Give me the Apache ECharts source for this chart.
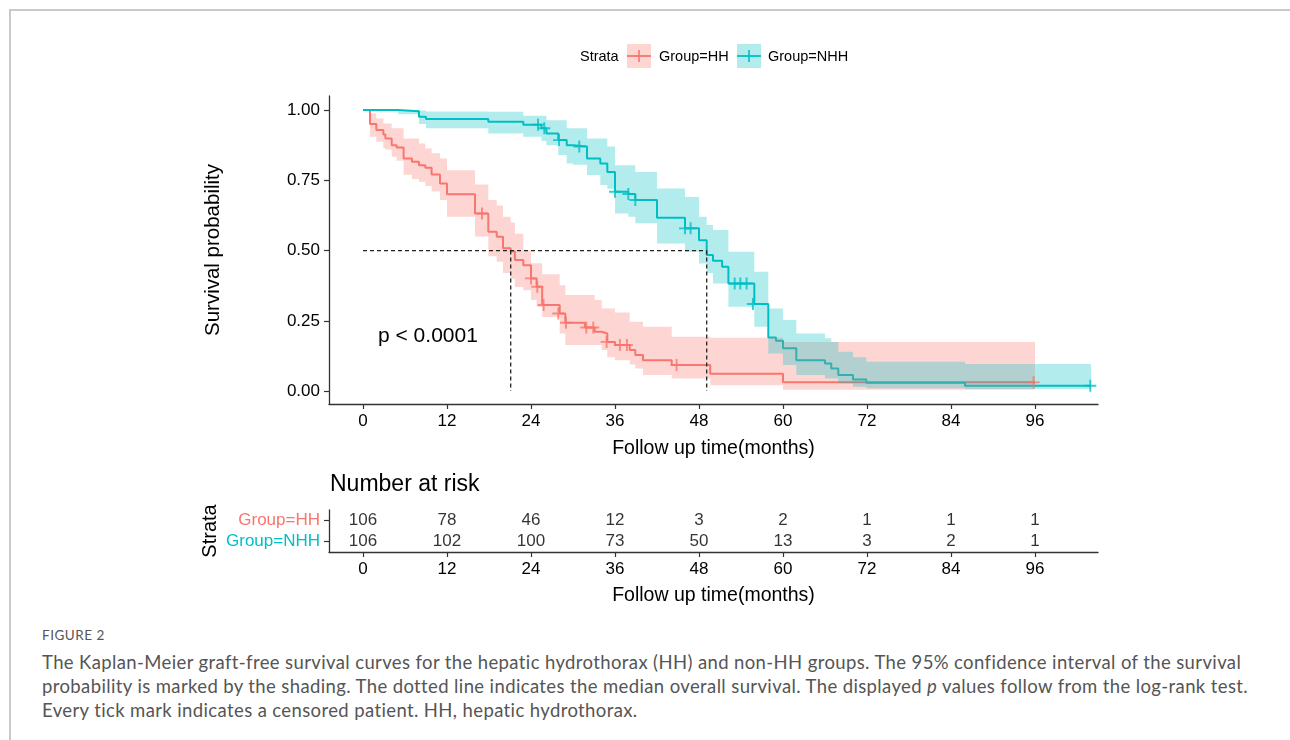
<!DOCTYPE html>
<html>
<head>
<meta charset="utf-8">
<script src="https://cdn.jsdelivr.net/npm/echarts@6/dist/echarts.min.js"></script>
<style>
  html, body { margin: 0; padding: 0; background: #fff; }
  #page { position: relative; width: 1290px; height: 740px; overflow: hidden; }
  #frame { position: absolute; left: 9px; top: 9px; right: -10px; bottom: -10px;
           border-top: 2px solid #c9c9c9; border-left: 2px solid #c9c9c9; }
  #chart { position: absolute; left: 0; top: 0; width: 1290px; height: 620px; }
  .fig { position: absolute; left: 42px; top: 627px; font: 13.5px Lato, sans-serif; color: #555; letter-spacing: 0.5px; }
  .cap { position: absolute; left: 42px; top: 650px; font: 18.5px/24px Lato, sans-serif; color: #555; letter-spacing: 0.38px; white-space: nowrap; }
</style>
</head>
<body>
<div id="page">
  <div id="frame"></div>
  <div id="chart"></div>
  <div class="fig">FIGURE 2</div>
  <div class="cap">The Kaplan-Meier graft-free survival curves for the hepatic hydrothorax (HH) and non-HH groups. The 95% confidence interval of the survival<br>probability is marked by the shading. The dotted line indicates the median overall survival. The displayed <i>p</i> values follow from the log-rank test.<br>Every tick mark indicates a censored patient. HH, hepatic hydrothorax.</div>
</div>
<script>
// ---- data ----
const xTicks = [0, 12, 24, 36, 48, 60, 72, 84, 96];
const yTicks = [0, 0.25, 0.5, 0.75, 1];
const strataNames = ['Group=NHH', 'Group=HH'];   // bottom row first

// HH group: step times, survival after each step, 95% CI
const hhTime  = [0, 1.0, 1.9, 2.9, 3.2, 4.1, 4.8, 5.8, 7.0, 8.0, 8.9, 9.8, 11.0, 12.0, 16.0, 17.9, 19.1, 20.0, 21.1, 21.7, 22.9, 24.0, 24.8, 25.6, 28.1, 28.9, 31.7, 33.1, 34.1, 34.9, 36.0, 38.1, 38.9, 40.0, 44.1, 49.6, 60.0, 96.0];
const hhSurv  = [1, 0.950, 0.929, 0.913, 0.899, 0.875, 0.867, 0.828, 0.816, 0.804, 0.795, 0.771, 0.739, 0.700, 0.632, 0.567, 0.549, 0.508, 0.497, 0.466, 0.448, 0.401, 0.371, 0.306, 0.276, 0.243, 0.226, 0.211, 0.205, 0.175, 0.164, 0.146, 0.128, 0.110, 0.093, 0.062, 0.031, 0.031];
const hhUpper = [1, 0.988, 0.970, 0.952, 0.952, 0.935, 0.935, 0.899, 0.899, 0.881, 0.863, 0.846, 0.828, 0.786, 0.735, 0.680, 0.660, 0.620, 0.600, 0.560, 0.500, 0.455, 0.455, 0.416, 0.377, 0.342, 0.342, 0.324, 0.294, 0.294, 0.280, 0.247, 0.247, 0.229, 0.193, 0.190, 0.175, 0.175];
const hhLower = [1, 0.905, 0.887, 0.865, 0.860, 0.834, 0.820, 0.770, 0.755, 0.745, 0.730, 0.710, 0.680, 0.620, 0.550, 0.480, 0.460, 0.420, 0.400, 0.370, 0.359, 0.324, 0.300, 0.264, 0.205, 0.164, 0.164, 0.164, 0.146, 0.120, 0.110, 0.095, 0.080, 0.057, 0.045, 0.021, 0.005, 0.005];
const hhCensT = [17.0, 24.0, 24.9, 25.8, 27.9, 29.0, 31.9, 32.9, 34.8, 36.7, 37.7, 44.8, 95.8];
const hhCensS = [0.632, 0.401, 0.371, 0.306, 0.276, 0.243, 0.226, 0.226, 0.175, 0.164, 0.164, 0.093, 0.031];

// NHH group
const nhhTime  = [0, 5.0, 8.0, 9.0, 17.9, 22.9, 25.5, 26.2, 27.9, 29.1, 30.0, 32.0, 33.9, 34.9, 36.0, 37.9, 38.9, 42.0, 46.0, 48.0, 49.1, 50.0, 51.3, 52.2, 55.9, 57.9, 59.0, 60.0, 61.9, 66.0, 66.9, 67.9, 70.0, 71.9, 86.0, 104.0];
const nhhSurv  = [1, 0.996, 0.976, 0.968, 0.958, 0.948, 0.935, 0.917, 0.893, 0.875, 0.870, 0.828, 0.810, 0.780, 0.709, 0.701, 0.680, 0.617, 0.579, 0.537, 0.484, 0.464, 0.442, 0.383, 0.310, 0.191, 0.179, 0.152, 0.110, 0.098, 0.080, 0.057, 0.041, 0.030, 0.019, 0.019];
const nhhUpper = [1, 1.000, 0.998, 0.995, 0.994, 0.980, 0.980, 0.964, 0.964, 0.935, 0.935, 0.899, 0.899, 0.870, 0.804, 0.804, 0.780, 0.721, 0.691, 0.620, 0.591, 0.573, 0.573, 0.496, 0.425, 0.294, 0.294, 0.253, 0.205, 0.188, 0.175, 0.140, 0.120, 0.104, 0.096, 0.096];
const nhhLower = [1, 0.985, 0.950, 0.935, 0.917, 0.905, 0.890, 0.875, 0.840, 0.810, 0.805, 0.769, 0.733, 0.720, 0.632, 0.620, 0.597, 0.525, 0.496, 0.454, 0.420, 0.383, 0.383, 0.300, 0.229, 0.134, 0.134, 0.093, 0.057, 0.045, 0.045, 0.027, 0.015, 0.010, 0.007, 0.007];
const nhhCensT = [25.0, 25.9, 28.0, 30.9, 36.0, 37.9, 38.9, 46.0, 46.8, 53.1, 53.9, 54.8, 55.7, 103.9];
const nhhCensS = [0.948, 0.935, 0.893, 0.870, 0.709, 0.701, 0.680, 0.579, 0.579, 0.383, 0.383, 0.383, 0.310, 0.019];

// medians and number at risk
const medianHH = 21.1;
const medianNHH = 49.1;
const riskTimes = [0, 12, 24, 36, 48, 60, 72, 84, 96];
const riskHH  = [106, 78, 46, 12, 3, 2, 1, 1, 1];
const riskNHH = [106, 102, 100, 73, 50, 13, 3, 2, 1];

// ---- chart ----
const RED = '#F8766D';
const TEAL = '#00BFC4';
const FONT = '"Liberation Sans", Arial, sans-serif';
const AXIS = '#333';
const plus = 'path://M0,4.2h10v1.6h-10z M4.2,0h1.6v10h-1.6z';

const zip = (a, b) => a.map((v, i) => [v, b[i]]);

function bandRenderer(times, up, lo, fill) {
  return function (params, api) {
    const pts = [];
    for (let i = 0; i < times.length - 1; i++) {
      pts.push(api.coord([times[i], up[i]]), api.coord([times[i + 1], up[i]]));
    }
    for (let i = times.length - 2; i >= 0; i--) {
      pts.push(api.coord([times[i + 1], lo[i]]), api.coord([times[i], lo[i]]));
    }
    return { type: 'polygon', shape: { points: pts }, style: { fill: fill } };
  };
}

const xAxisBase = (grid, name, gap) => ({
  type: 'value', gridIndex: grid, min: -4.857, max: 105,
  axisLine: { show: true, onZero: false, lineStyle: { color: AXIS, width: 1.3 } },
  axisTick: { show: true, length: 5, customValues: xTicks, lineStyle: { color: AXIS, width: 1.2 } },
  axisLabel: { customValues: xTicks, fontSize: 17, color: '#000', fontFamily: FONT, margin: 9 },
  splitLine: { show: false },
  name: name, nameLocation: 'middle', nameGap: gap, nameMoveOverlap: false,
  nameTextStyle: { fontSize: 19.5, color: '#000', fontFamily: FONT }
});

const dashed = { color: '#222', width: 1.3, type: [4, 3] };

const chart = echarts.init(document.getElementById('chart'));
const option = {
  animation: false,
  backgroundColor: 'transparent',
  grid: [
    { left: 329, top: 96, width: 769, height: 308, outerBoundsMode: 'none' },
    { left: 329, top: 510, width: 769, height: 42, outerBoundsMode: 'none' }
  ],
  xAxis: [
    xAxisBase(0, 'Follow up time(months)', 35),
    xAxisBase(1, 'Follow up time(months)', 34)
  ],
  yAxis: [
    {
      type: 'value', gridIndex: 0, min: -0.046, max: 1.05,
      axisLine: { show: true, onZero: false, lineStyle: { color: AXIS, width: 1.3 } },
      axisTick: { show: true, length: 5, customValues: yTicks, lineStyle: { color: AXIS, width: 1.2 } },
      axisLabel: { customValues: yTicks, fontSize: 17, color: '#000', fontFamily: FONT, margin: 9,
                   formatter: v => v.toFixed(2) },
      splitLine: { show: false },
      name: 'Survival probability', nameLocation: 'middle', nameGap: 105, nameMoveOverlap: false,
      nameTextStyle: { fontSize: 20.5, color: '#000', fontFamily: FONT }
    },
    {
      type: 'category', gridIndex: 1, data: strataNames,
      axisLine: { show: true, onZero: false, lineStyle: { color: AXIS, width: 1.3 } },
      axisTick: { show: true, length: 5, interval: 0, alignWithLabel: true, lineStyle: { color: AXIS, width: 1.2 } },
      axisLabel: { interval: 0, hideOverlap: false, fontSize: 17, fontFamily: FONT, margin: 9,
                   color: v => (v === 'Group=HH' ? RED : TEAL) },
      name: 'Strata', nameLocation: 'middle', nameGap: 109, nameMoveOverlap: false,
      nameTextStyle: { fontSize: 20, color: '#000', fontFamily: FONT }
    }
  ],
  graphic: [
    { type: 'text', left: 330, top: 473, style: { text: 'Number at risk', fontSize: 23, fill: '#000', fontFamily: FONT } },
    { type: 'text', left: 378, top: 326, style: { text: 'p < 0.0001', fontSize: 21, fill: '#000', fontFamily: FONT } },
    // legend
    { type: 'text', left: 580, top: 49, style: { text: 'Strata', fontSize: 14.5, fill: '#000', fontFamily: FONT } },
    { type: 'rect', shape: { x: 627, y: 44, width: 24, height: 24 }, style: { fill: 'rgba(248,118,109,0.3)' } },
    { type: 'line', shape: { x1: 627, y1: 56, x2: 651, y2: 56 }, style: { stroke: RED, lineWidth: 1.8 } },
    { type: 'line', shape: { x1: 639, y1: 50, x2: 639, y2: 62 }, style: { stroke: RED, lineWidth: 1.6 } },
    { type: 'text', left: 659, top: 49, style: { text: 'Group=HH', fontSize: 14.5, fill: '#000', fontFamily: FONT } },
    { type: 'rect', shape: { x: 737, y: 44, width: 24, height: 24 }, style: { fill: 'rgba(0,191,196,0.3)' } },
    { type: 'line', shape: { x1: 737, y1: 56, x2: 761, y2: 56 }, style: { stroke: TEAL, lineWidth: 1.8 } },
    { type: 'line', shape: { x1: 749, y1: 50, x2: 749, y2: 62 }, style: { stroke: TEAL, lineWidth: 1.6 } },
    { type: 'text', left: 768, top: 49, style: { text: 'Group=NHH', fontSize: 14.5, fill: '#000', fontFamily: FONT } }
  ],
  series: [
    { name: 'Group=HH', type: 'line', step: 'end', data: zip(hhTime, hhSurv), showSymbol: false,
      lineStyle: { color: RED, width: 2 }, z: 2 },
    { name: 'Group=NHH', type: 'line', step: 'end', data: zip(nhhTime, nhhSurv), showSymbol: false,
      lineStyle: { color: TEAL, width: 2 }, z: 2 },
    { type: 'custom', data: [[0, 0]], renderItem: bandRenderer(hhTime, hhUpper, hhLower, 'rgba(248,118,109,0.3)'), z: 3, silent: true },
    { type: 'custom', data: [[0, 0]], renderItem: bandRenderer(nhhTime, nhhUpper, nhhLower, 'rgba(0,191,196,0.3)'), z: 3, silent: true },
    { type: 'scatter', data: zip(hhCensT, hhCensS), symbol: plus, symbolSize: 12, itemStyle: { color: RED }, z: 4 },
    { type: 'scatter', data: zip(nhhCensT, nhhCensS), symbol: plus, symbolSize: 12, itemStyle: { color: TEAL }, z: 4 },
    // median lines
    { type: 'line', data: [[0, 0.5], [medianNHH, 0.5]], showSymbol: false, lineStyle: dashed, z: 5 },
    { type: 'line', data: [[medianHH, 0.5], [medianHH, 0]], showSymbol: false, lineStyle: dashed, z: 5 },
    { type: 'line', data: [[medianNHH, 0.5], [medianNHH, 0]], showSymbol: false, lineStyle: dashed, z: 5 },
    // number at risk table
    { type: 'scatter', xAxisIndex: 1, yAxisIndex: 1, symbolSize: 1, itemStyle: { color: 'transparent' },
      data: riskTimes.map((t, i) => [t, 'Group=HH', riskHH[i]]),
      label: { show: true, position: 'inside', formatter: p => p.value[2], fontSize: 17, color: '#000', fontFamily: FONT } },
    { type: 'scatter', xAxisIndex: 1, yAxisIndex: 1, symbolSize: 1, itemStyle: { color: 'transparent' },
      data: riskTimes.map((t, i) => [t, 'Group=NHH', riskNHH[i]]),
      label: { show: true, position: 'inside', formatter: p => p.value[2], fontSize: 17, color: '#000', fontFamily: FONT } }
  ]
};
chart.setOption(option);
</script>
</body>
</html>
